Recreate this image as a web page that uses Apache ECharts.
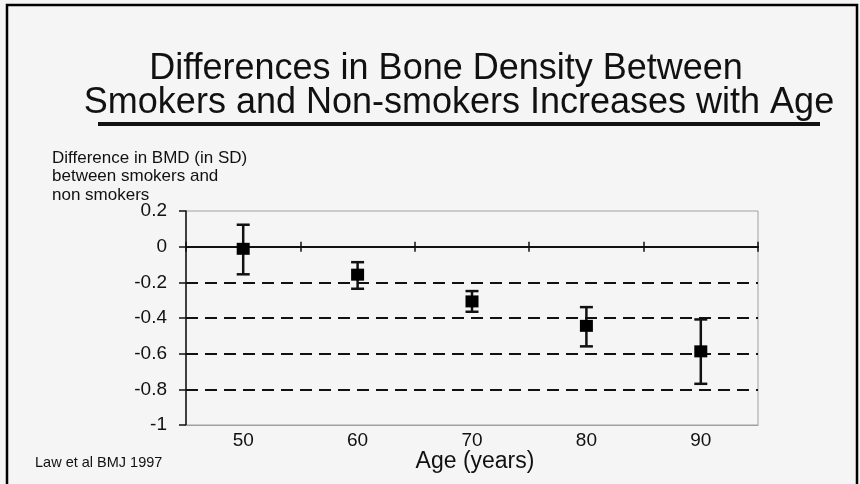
<!DOCTYPE html>
<html>
<head>
<meta charset="utf-8">
<script src="https://cdn.jsdelivr.net/npm/echarts@6/dist/echarts.min.js"></script>
<style>
html,body{margin:0;padding:0;background:#f5f5f5;}
#c{width:860px;height:484px;}
</style>
</head>
<body>
<div id="c"></div>
<script>
// ---- data ----
const titleLines = ['Differences in Bone Density Between', 'Smokers and Non-smokers Increases with Age'];
const yNameLines = ['Difference in BMD (in SD)', 'between smokers and', 'non smokers'];
const ages = ['50', '60', '70', '80', '90'];
const meanDiff = [-0.012, -0.157, -0.307, -0.444, -0.587];
const ciUpper = [0.123, -0.087, -0.249, -0.339, -0.408];
const ciLower = [-0.155, -0.236, -0.365, -0.559, -0.769];
const dashedLevels = [-0.2, -0.4, -0.6, -0.8];
const xAxisTitle = 'Age (years)';
const sourceNote = 'Law et al BMJ 1997';

const FONT = 'Liberation Sans, Arial, Helvetica, sans-serif';
const chart = echarts.init(document.getElementById('c'), null, {renderer: 'canvas'});

const gridRect = {left: 186, right: 102, top: 211, bottom: 59};
const yBase = {type: 'value', min: -1, max: 0.2, interval: 0.2};

const errData = ages.map((a, i) => [i, ciLower[i], ciUpper[i]]);

const option = {
  backgroundColor: '#f5f5f5',
  animation: false,
  grid: [
    Object.assign({show: true, borderColor: '#a0a0a0', borderWidth: 1, backgroundColor: 'transparent'}, gridRect),
    Object.assign({}, gridRect),
    Object.assign({}, gridRect)
  ],
  xAxis: [
    {
      type: 'category', data: ages, gridIndex: 0, position: 'bottom',
      axisLine: {onZero: false, lineStyle: {color: '#a0a0a0', width: 1}},
      axisTick: {show: false},
      axisLabel: {color: '#111', fontSize: 19, fontFamily: FONT, margin: 6},
      splitLine: {show: false}
    },
    {
      type: 'category', data: ages, gridIndex: 1,
      axisLine: {onZero: true, lineStyle: {color: '#111', width: 2}},
      axisTick: {show: true, inside: true, length: 5, lineStyle: {color: '#111', width: 1.5}},
      axisLabel: {show: false}, splitLine: {show: false}
    },
    {
      type: 'category', data: ages, gridIndex: 2,
      axisLine: {onZero: true, lineStyle: {color: '#111', width: 2}},
      axisTick: {show: true, inside: false, length: 5, lineStyle: {color: '#111', width: 1.5}},
      axisLabel: {show: false}, splitLine: {show: false}
    }
  ],
  yAxis: [
    Object.assign({
      gridIndex: 0,
      axisLine: {show: true, lineStyle: {color: '#111', width: 1.5}},
      axisTick: {show: true, length: 7, lineStyle: {color: '#111', width: 1.5}},
      axisLabel: {color: '#111', fontSize: 19, fontFamily: FONT, margin: 19,
        formatter: v => (Math.round(v * 10) / 10).toString()},
      splitLine: {show: false}
    }, yBase),
    Object.assign({gridIndex: 1, show: false, splitLine: {show: false}}, yBase),
    Object.assign({gridIndex: 2, show: false, splitLine: {show: false}}, yBase)
  ],
  series: [
    {
      type: 'line', xAxisIndex: 0, yAxisIndex: 0, data: [], silent: true,
      markLine: {
        symbol: 'none', silent: true, label: {show: false},
        lineStyle: {color: '#111', width: 2, type: [12, 7]},
        data: dashedLevels.map(v => ({yAxis: v}))
      }
    },
    {
      type: 'custom', xAxisIndex: 0, yAxisIndex: 0, data: errData, z: 5,
      renderItem: function (params, api) {
        const x = api.value(0);
        const lo = api.coord([x, api.value(1)]);
        const hi = api.coord([x, api.value(2)]);
        const hw = 6.5;
        const st = {stroke: '#111', lineWidth: 2.5};
        return {
          type: 'group',
          children: [
            {type: 'line', shape: {x1: hi[0], y1: hi[1], x2: lo[0], y2: lo[1]}, style: st},
            {type: 'line', shape: {x1: hi[0] - hw, y1: hi[1], x2: hi[0] + hw, y2: hi[1]}, style: st},
            {type: 'line', shape: {x1: lo[0] - hw, y1: lo[1], x2: lo[0] + hw, y2: lo[1]}, style: st}
          ]
        };
      }
    },
    {
      type: 'scatter', xAxisIndex: 0, yAxisIndex: 0, data: meanDiff, z: 6,
      symbol: 'rect', symbolSize: [13, 12],
      itemStyle: {color: '#000', opacity: 1}
    }
  ],
  graphic: [
    {type: 'rect', shape: {x: 7, y: 5, width: 850, height: 490}, style: {fill: 'none', stroke: '#000', lineWidth: 2.5}, z: 100},
    {type: 'text', x: 446, y: 51, style: {text: titleLines[0], font: '36px ' + FONT, fill: '#111', textAlign: 'center'}},
    {type: 'text', x: 459, y: 85, style: {text: titleLines[1], font: '36px ' + FONT, fill: '#111', textAlign: 'center'}},
    {type: 'rect', shape: {x: 98, y: 122, width: 722, height: 4}, style: {fill: '#111'}},
    {type: 'text', x: 52, y: 149, style: {text: yNameLines.join('\n'), font: '17px ' + FONT, lineHeight: 18.5, fill: '#111'}},
    {type: 'text', x: 475, y: 450, style: {text: xAxisTitle, font: '23px ' + FONT, fill: '#111', textAlign: 'center'}},
    {type: 'text', x: 35, y: 455, style: {text: sourceNote, font: '14.5px ' + FONT, fill: '#111'}}
  ]
};
chart.setOption(option);
</script>
</body>
</html>
